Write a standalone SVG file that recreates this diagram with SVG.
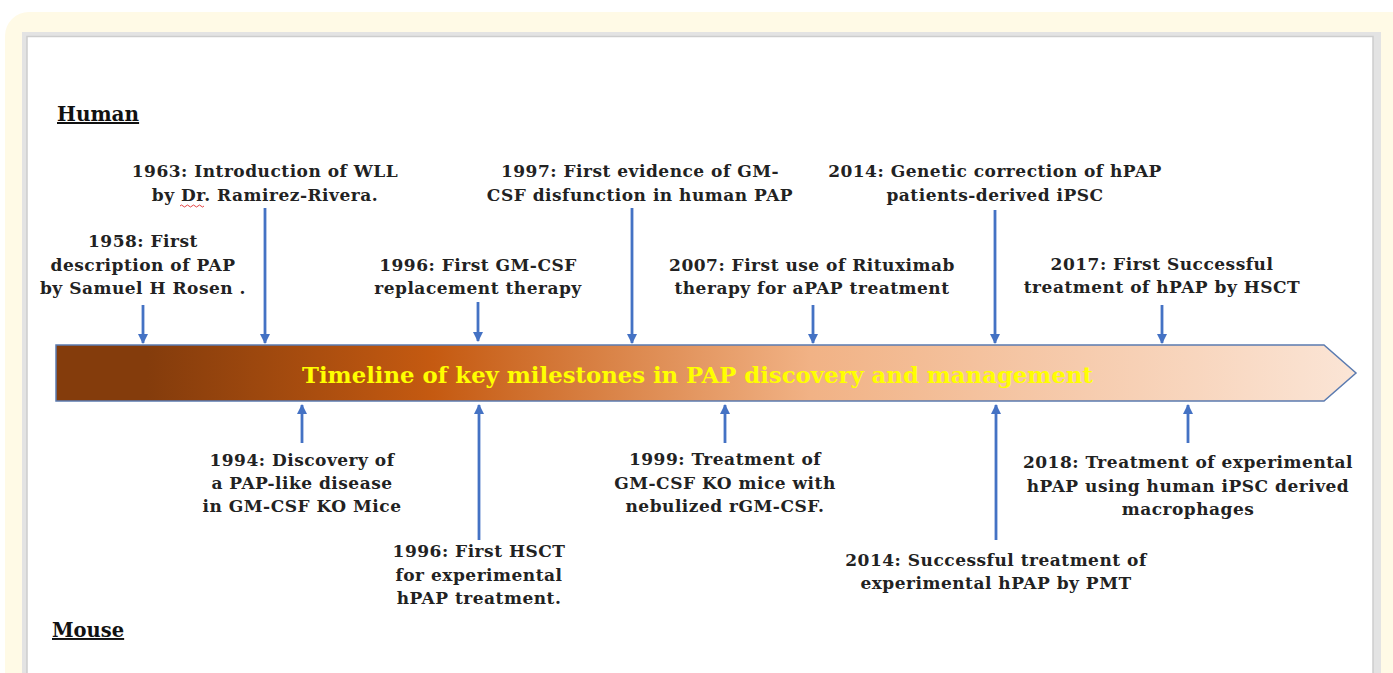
<svg xmlns="http://www.w3.org/2000/svg" width="1393" height="673" viewBox="0 0 1393 673">
<defs>
<linearGradient id="bar" x1="56" y1="0" x2="1356" y2="0" gradientUnits="userSpaceOnUse">
<stop offset="0" stop-color="#843c0c"/>
<stop offset="0.07" stop-color="#843c0c"/>
<stop offset="0.29" stop-color="#c55a11"/>
<stop offset="0.58" stop-color="#f1b285"/>
<stop offset="1" stop-color="#fbe5d6"/>
</linearGradient>
<marker id="ah" viewBox="0 0 10 10" refX="9" refY="5" markerWidth="10" markerHeight="12" markerUnits="userSpaceOnUse" orient="auto">
<path d="M0,0 L10,5 L0,10 Z" fill="#4472c4"/>
</marker>
<style>
.lbl{font-family:"DejaVu Serif","Liberation Serif",serif;font-weight:bold;font-size:17px;letter-spacing:0.5px;fill:#222;text-anchor:middle}
.sec{font-family:"DejaVu Serif","Liberation Serif",serif;font-weight:bold;font-size:20px;fill:#111;text-decoration:underline}
.arr{stroke:#4472c4;stroke-width:2.8;fill:none;marker-end:url(#ah)}
.title{font-family:"DejaVu Serif","Liberation Serif",serif;font-weight:bold;font-size:22px;fill:#ffff00}
</style>
</defs>
<rect x="0" y="0" width="1393" height="673" fill="#ffffff"/>
<rect x="5" y="12" width="1410" height="720" rx="24" fill="#fffae6"/>
<rect x="22" y="32" width="1359" height="700" fill="#e3e3e3"/>
<rect x="27" y="36.5" width="1346" height="700" fill="#ffffff" stroke="#cdcdcd" stroke-width="1.5"/>

<g id="section-labels">
<text class="sec" x="57" y="121">Human</text>
<text class="sec" x="52" y="637" style="font-size:19.5px">Mouse</text>
</g>

<g id="timeline-bar">
<path d="M56,345 L1324,345 L1356,373 L1324,401 L56,401 Z" fill="url(#bar)" stroke="#5b7bb0" stroke-width="1.5"/>
<text class="title" x="302" y="383" textLength="791" lengthAdjust="spacingAndGlyphs">Timeline of key milestones in PAP discovery and management</text>
</g>

<g id="connectors">
<line class="arr" x1="143" y1="305" x2="143" y2="343"/>
<line class="arr" x1="265" y1="208" x2="265" y2="343"/>
<line class="arr" x1="478" y1="302" x2="478" y2="341"/>
<line class="arr" x1="632" y1="208" x2="632" y2="343"/>
<line class="arr" x1="813" y1="305" x2="813" y2="343"/>
<line class="arr" x1="995" y1="210" x2="995" y2="343"/>
<line class="arr" x1="1162" y1="305" x2="1162" y2="343"/>
<line class="arr" x1="302" y1="443" x2="302" y2="405"/>
<line class="arr" x1="479" y1="540" x2="479" y2="405"/>
<line class="arr" x1="725" y1="443" x2="725" y2="405"/>
<line class="arr" x1="996" y1="540" x2="996" y2="405"/>
<line class="arr" x1="1188" y1="443" x2="1188" y2="405"/>
</g>

<g id="m1958"><text class="lbl"><tspan x="143" y="247">1958: First</tspan><tspan x="143" y="271">description of PAP</tspan><tspan x="143" y="294">by Samuel H Rosen .</tspan></text></g>
<g id="m1963"><text class="lbl"><tspan x="265" y="177">1963: Introduction of WLL</tspan><tspan x="265" y="201">by Dr. Ramirez-Rivera.</tspan></text>
<path d="M180,206 q1.5,-2 3,0 t3,0 t3,0 t3,0 t3,0 t3,0 t3,0 t3,0" stroke="#e03030" stroke-width="0.9" fill="none"/></g>
<g id="m1996a"><text class="lbl"><tspan x="478" y="271">1996: First GM-CSF</tspan><tspan x="478" y="294">replacement therapy</tspan></text></g>
<g id="m1997"><text class="lbl"><tspan x="640" y="177">1997: First evidence of GM-</tspan><tspan x="640" y="201">CSF disfunction in human PAP</tspan></text></g>
<g id="m2007"><text class="lbl"><tspan x="812" y="271">2007: First use of Rituximab</tspan><tspan x="812" y="294">therapy for aPAP treatment</tspan></text></g>
<g id="m2014a"><text class="lbl"><tspan x="995" y="177">2014: Genetic correction of hPAP</tspan><tspan x="995" y="201">patients-derived iPSC</tspan></text></g>
<g id="m2017"><text class="lbl"><tspan x="1162" y="270">2017: First Successful</tspan><tspan x="1162" y="293">treatment of hPAP by HSCT</tspan></text></g>

<g id="m1994"><text class="lbl"><tspan x="302" y="466">1994: Discovery of</tspan><tspan x="302" y="489">a PAP-like disease</tspan><tspan x="302" y="512">in GM-CSF KO Mice</tspan></text></g>
<g id="m1996b"><text class="lbl"><tspan x="479" y="557">1996: First HSCT</tspan><tspan x="479" y="581">for experimental</tspan><tspan x="479" y="604">hPAP treatment.</tspan></text></g>
<g id="m1999"><text class="lbl"><tspan x="725" y="465">1999: Treatment of</tspan><tspan x="725" y="489">GM-CSF KO mice with</tspan><tspan x="725" y="512">nebulized rGM-CSF.</tspan></text></g>
<g id="m2014b"><text class="lbl"><tspan x="996" y="566">2014: Successful treatment of</tspan><tspan x="996" y="589">experimental hPAP by PMT</tspan></text></g>
<g id="m2018"><text class="lbl"><tspan x="1188" y="468">2018: Treatment of experimental</tspan><tspan x="1188" y="492">hPAP using human iPSC derived</tspan><tspan x="1188" y="515">macrophages</tspan></text></g>
</svg>
